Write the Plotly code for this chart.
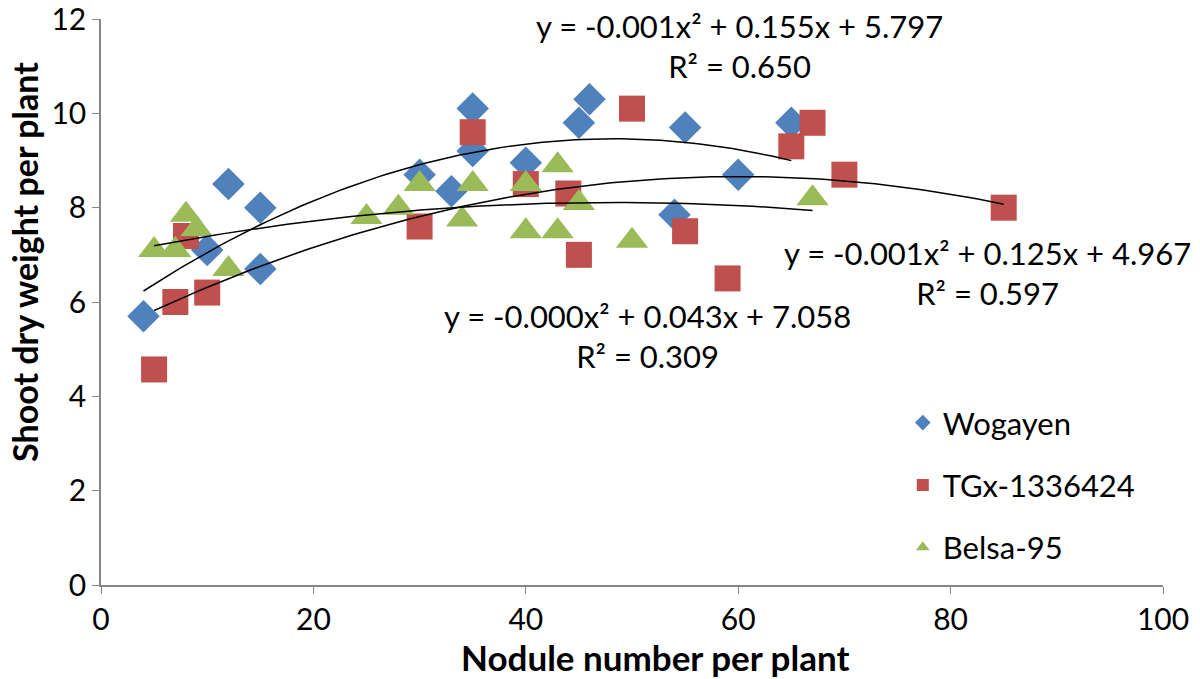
import numpy as np
import plotly.graph_objects as go

# --- data ---
wog_x = [4, 10, 12, 15, 15, 30, 33, 35, 35, 40, 45, 46, 54, 55, 60, 65]
wog_y = [5.7, 7.1, 8.5, 8.0, 6.7, 8.7, 8.35, 10.1, 9.2, 8.95, 9.8, 10.3, 7.85, 9.7, 8.7, 9.8]

tgx_x = [5, 7, 8, 10, 30, 35, 40, 44, 45, 50, 55, 59, 65, 67, 70, 85]
tgx_y = [4.57, 6.0, 7.4, 6.2, 7.6, 9.6, 8.5, 8.3, 7.0, 10.1, 7.5, 6.5, 9.3, 9.8, 8.7, 8.0]

bel_x = [5, 7, 8, 9, 12, 25, 28, 30, 34, 35, 40, 40, 43, 43, 45, 50, 67]
bel_y = [7.1, 7.1, 7.85, 7.55, 6.7, 7.8, 8.0, 8.5, 7.75, 8.5, 8.5, 7.5, 8.9, 7.5, 8.1, 7.3, 8.2]

series_names = ["Wogayen", "TGx-1336424", "Belsa-95"]
eq_texts = [
    "y = -0.001x² + 0.155x + 5.797<br>R² = 0.650",
    "y = -0.001x² + 0.125x + 4.967<br>R² = 0.597",
    "y = -0.000x² + 0.043x + 7.058<br>R² = 0.309",
]
x_title = "Nodule number per plant"
y_title = "Shoot dry weight per plant"
x_ticks = [0, 20, 40, 60, 80, 100]
y_ticks = [0, 2, 4, 6, 8, 10, 12]

colors = ["#4F81BD", "#C0504D", "#9BBB59"]
symbols = ["diamond", "square", "triangle-up"]
sizes = [25, 26, 28]
FONT = "Lato, 'Open Sans', sans-serif"

fig = go.Figure()
all_data = [(wog_x, wog_y), (tgx_x, tgx_y), (bel_x, bel_y)]

# points
for i, ((xs, ys), name) in enumerate(zip(all_data, series_names)):
    fig.add_trace(go.Scatter(
        x=xs, y=ys, mode="markers", name=name, legendgroup=name,
        marker=dict(symbol=symbols[i], size=sizes[i], color=colors[i],
                    line=dict(width=0)),
    ))

# polynomial trendlines (order 2), computed from the data
for i, (xs, ys) in enumerate(all_data):
    c = np.polyfit(xs, ys, 2)
    xx = np.linspace(min(xs), max(xs), 100)
    fig.add_trace(go.Scatter(
        x=xx, y=np.polyval(c, xx), mode="lines", showlegend=False,
        line=dict(color="black", width=1.5), hoverinfo="skip",
    ))

# equation labels
eq_pos = [(60.1, 11.42), (83.5, 6.61), (51.5, 5.28)]
for (ex, ey), t in zip(eq_pos, eq_texts):
    fig.add_annotation(x=ex, y=ey, text=t, showarrow=False, xref="x", yref="y",
                       font=dict(family=FONT, size=31, color="black"), align="center")

# axis titles
fig.add_annotation(x=0.5217, y=-0.128, xref="paper", yref="paper",
                   text="<b>" + x_title + "</b>", showarrow=False,
                   xanchor="center", yanchor="middle",
                   font=dict(family=FONT, size=35, color="black"))
fig.add_annotation(x=-0.072, y=0.57, xref="paper", yref="paper",
                   text="<b>" + y_title + "</b>", showarrow=False, textangle=-90,
                   xanchor="center", yanchor="middle",
                   font=dict(family=FONT, size=34, color="black"))

fig.update_layout(
    width=1200, height=679,
    paper_bgcolor="white", plot_bgcolor="white",
    margin=dict(l=101, r=37, t=19, b=94),
    font=dict(family=FONT, size=28, color="black"),
    showlegend=True,
    legend=dict(x=0.755, y=0.334, xanchor="left", yanchor="top",
                font=dict(family=FONT, size=31, color="black"),
                bgcolor="rgba(0,0,0,0)", tracegroupgap=19,
                traceorder="grouped", itemsizing="constant"),
    xaxis=dict(range=[0, 100], tickvals=x_ticks, showgrid=False, zeroline=False,
               showline=True, linecolor="#868686", linewidth=1.5, automargin=False,
               ticks="outside", ticklen=7, tickcolor="#868686",
               ticklabeloverflow="allow",
               tickfont=dict(family=FONT, size=30, color="black")),
    yaxis=dict(range=[0, 12], tickvals=y_ticks, showgrid=False, zeroline=False,
               showline=True, linecolor="#868686", linewidth=1.5, automargin=False,
               ticks="outside", ticklen=7, tickcolor="#868686",
               ticklabeloverflow="allow",
               tickfont=dict(family=FONT, size=30, color="black")),
)

fig.write_html("out.html", config={"displayModeBar": False},
               post_script="document.body.style.margin='0px';document.body.style.padding='0px';")
